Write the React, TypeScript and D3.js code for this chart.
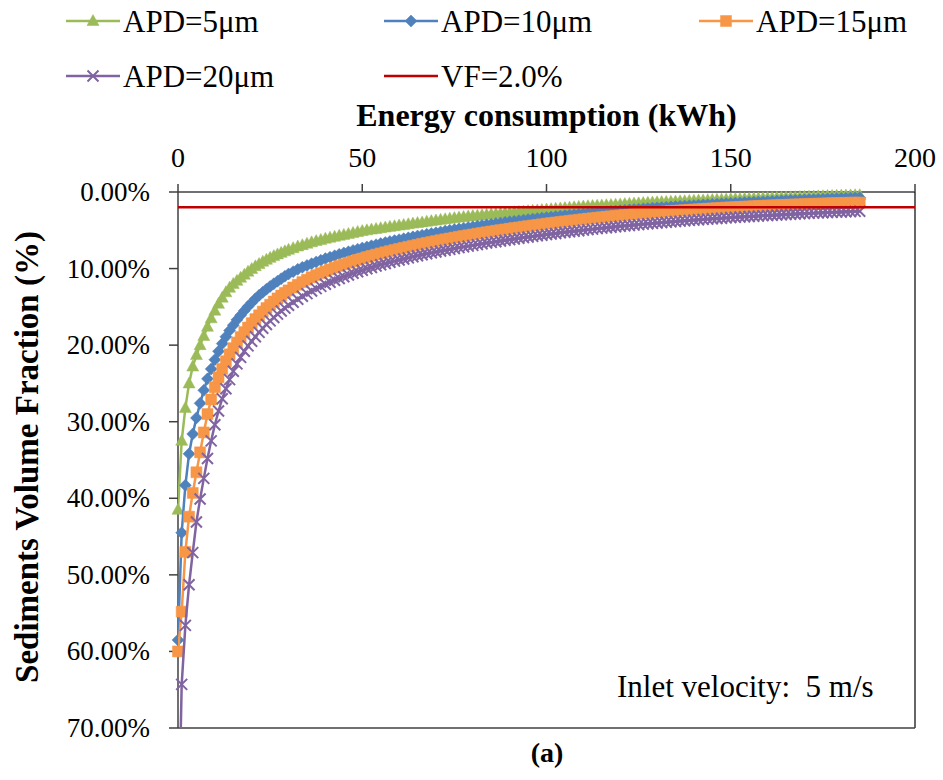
import React from 'react';
import * as d3 from 'd3';

// Energy consumption (kWh) at each sample
const ENERGY = [0,1,2,3,4,5,6,7,8,9,10,11,12,13,14,15,16,17,18,19,20,21,22,23,24,25,26,27,28,29,30,
  31.25,32.5,33.75,35,36.25,37.5,38.75,40,41.25,42.5,43.75,45,46.25,47.5,48.75,50,51.25,52.5,53.75,55,56.25,57.5,58.75,60,
  61.25,62.5,63.75,65,66.25,67.5,68.75,70,71.25,72.5,73.75,75,76.25,77.5,78.75,80,81.25,82.5,83.75,85,86.25,87.5,88.75,90,
  91.25,92.5,93.75,95,96.25,97.5,98.75,100,101.25,102.5,103.75,105,106.25,107.5,108.75,110,111.25,112.5,113.75,115,116.25,117.5,118.75,120,
  121.25,122.5,123.75,125,126.25,127.5,128.75,130,131.25,132.5,133.75,135,136.25,137.5,138.75,140,141.25,142.5,143.75,145,146.25,147.5,148.75,150,
  151.25,152.5,153.75,155,156.25,157.5,158.75,160,161.25,162.5,163.75,165,166.25,167.5,168.75,170,171.25,172.5,173.75,175,176.25,177.5,178.75,180,181.25,182.5,183.75,185];

// Sediments volume fraction (%) per series
const APD5 = [41.5,32.5,28.2,25.0,22.8,21.3,20.0,18.8,17.6,16.5,15.5,14.6,13.8,13.1,12.5,12.0,11.6,11.2,10.8,10.4,10.05,9.7,9.4,9.1,8.85,8.6,8.37,8.15,7.95,7.75,7.55,
  7.33,7.12,6.94,6.75,6.57,6.41,6.26,6.1,5.97,5.85,5.72,5.6,5.48,5.35,5.22,5.1,5.0,4.91,4.82,4.73,4.64,4.55,4.47,4.38,
  4.3,4.21,4.13,4.05,3.97,3.88,3.8,3.72,3.64,3.56,3.48,3.4,3.34,3.27,3.21,3.15,3.09,3.03,2.97,2.92,2.86,2.81,2.75,2.7,
  2.65,2.6,2.55,2.5,2.45,2.4,2.35,2.3,2.25,2.2,2.15,2.1,2.05,2.0,1.95,1.9,1.86,1.83,1.79,1.76,1.72,1.69,1.65,1.62,
  1.58,1.55,1.51,1.48,1.44,1.41,1.38,1.35,1.32,1.3,1.27,1.25,1.22,1.2,1.17,1.15,1.12,1.1,1.07,1.05,1.02,1.0,0.97,0.95,
  0.93,0.91,0.89,0.87,0.85,0.83,0.81,0.79,0.77,0.75,0.73,0.71,0.69,0.67,0.65,0.63,0.61,0.59,0.57,0.55,0.53,0.51,0.49,0.47,0.45,0.44,0.42,0.41];
const APD10 = [58.5,44.5,38.3,34.2,31.6,29.5,27.6,25.9,24.4,23.1,21.9,20.8,19.8,18.9,18.1,17.4,16.7,16.1,15.5,14.95,14.45,13.95,13.5,13.1,12.7,12.33,11.98,11.65,11.32,11.0,10.7,
  10.4,10.1,9.83,9.59,9.36,9.13,8.91,8.7,8.51,8.33,8.14,7.96,7.8,7.63,7.47,7.32,7.17,7.02,6.88,6.74,6.6,6.47,6.35,6.22,
  6.1,5.98,5.86,5.75,5.64,5.53,5.42,5.32,5.21,5.1,5.0,4.9,4.81,4.72,4.63,4.54,4.45,4.37,4.28,4.2,4.12,4.04,3.96,3.88,
  3.81,3.74,3.67,3.6,3.53,3.46,3.4,3.33,3.26,3.2,3.14,3.08,3.02,2.96,2.9,2.85,2.79,2.74,2.68,2.63,2.58,2.53,2.48,2.43,
  2.38,2.33,2.28,2.24,2.19,2.15,2.1,2.06,2.02,1.98,1.94,1.9,1.86,1.82,1.78,1.75,1.71,1.68,1.64,1.61,1.57,1.54,1.5,1.47,
  1.44,1.41,1.38,1.35,1.32,1.29,1.26,1.23,1.2,1.17,1.14,1.12,1.09,1.07,1.04,1.02,0.99,0.97,0.94,0.92,0.89,0.87,0.84,0.82,0.8,0.78,0.76,0.74];
const APD15 = [60,54.8,47.0,42.4,39.3,36.6,34.0,31.4,29.0,27.1,25.5,24.2,23.1,22.1,21.2,20.4,19.65,18.95,18.3,17.7,17.13,16.6,16.1,15.62,15.15,14.72,14.3,13.9,13.52,13.17,12.85,
  12.47,12.11,11.77,11.45,11.14,10.86,10.6,10.35,10.11,9.88,9.66,9.45,9.25,9.06,8.87,8.69,8.51,8.34,8.18,8.02,7.87,7.72,7.57,7.43,
  7.3,7.16,7.03,6.9,6.77,6.65,6.53,6.41,6.29,6.18,6.07,5.96,5.85,5.75,5.65,5.55,5.45,5.35,5.25,5.16,5.07,4.98,4.89,4.8,
  4.71,4.63,4.54,4.46,4.38,4.3,4.22,4.14,4.06,3.99,3.91,3.84,3.77,3.7,3.63,3.56,3.49,3.43,3.36,3.3,3.24,3.18,3.12,3.06,
  3.0,2.95,2.89,2.84,2.79,2.74,2.69,2.64,2.6,2.55,2.5,2.46,2.42,2.38,2.34,2.3,2.26,2.22,2.18,2.15,2.11,2.08,2.04,2.01,
  1.98,1.95,1.92,1.89,1.86,1.83,1.8,1.78,1.75,1.73,1.7,1.68,1.65,1.63,1.61,1.59,1.57,1.55,1.53,1.51,1.49,1.47,1.45,1.44,1.42,1.41,1.39,1.38];
const APD20 = [88,64.3,56.6,51.3,47.1,43.1,40.1,37.4,34.8,32.5,30.4,28.6,27.0,25.7,24.5,23.4,22.45,21.6,20.8,20.1,19.5,18.9,18.33,17.8,17.3,16.83,16.38,15.95,15.55,15.16,14.8,
  14.39,14.0,13.62,13.27,12.93,12.62,12.32,12.05,11.78,11.53,11.29,11.06,10.84,10.62,10.42,10.22,10.03,9.85,9.67,9.5,9.34,9.18,9.03,8.88,
  8.74,8.6,8.46,8.33,8.2,8.07,7.95,7.83,7.71,7.6,7.49,7.38,7.27,7.17,7.07,6.97,6.87,6.77,6.67,6.58,6.49,6.4,6.31,6.22,
  6.13,6.05,5.96,5.88,5.8,5.72,5.64,5.56,5.48,5.41,5.33,5.26,5.19,5.12,5.05,4.98,4.91,4.85,4.78,4.72,4.66,4.6,4.54,4.48,
  4.42,4.37,4.31,4.26,4.2,4.15,4.1,4.05,4.0,3.95,3.9,3.85,3.8,3.76,3.71,3.67,3.62,3.58,3.54,3.5,3.46,3.42,3.38,3.34,
  3.3,3.27,3.23,3.2,3.16,3.13,3.09,3.06,3.03,3.0,2.97,2.94,2.91,2.88,2.85,2.82,2.79,2.76,2.73,2.71,2.68,2.66,2.63,2.61,2.58,2.56,2.53,2.51];

const SERIES_NAMES = ['APD=5μm', 'APD=10μm', 'APD=15μm', 'APD=20μm'];
const SERIES_VALUES = [APD5, APD10, APD15, APD20];
const SERIES_COLORS = ['#9BBB59', '#4F81BD', '#F79646', '#8064A2'];
const SERIES_MARKERS = ['triangle', 'diamond', 'square', 'x'];
const VF_NAME = 'VF=2.0%';
const VF_LIMIT = 2.0;
const VF_COLOR = '#C00000';

const X_TICKS = [0, 50, 100, 150, 200];
const Y_TICKS = [0, 10, 20, 30, 40, 50, 60, 70];

const FONT = '"Liberation Serif", "Times New Roman", serif';

function markerPath(kind: string): string {
  if (kind === 'triangle') return 'M0,-6.5L6,4.5L-6,4.5Z';
  if (kind === 'diamond') return 'M0,-6L6,0L0,6L-6,0Z';
  if (kind === 'square') return 'M-5.5,-5.5H5.5V5.5H-5.5Z';
  return 'M-5.5,-5.5L5.5,5.5M5.5,-5.5L-5.5,5.5';
}

function Marker({ kind, color, cx, cy }: { kind: string; color: string; cx: number; cy: number }) {
  const isX = kind === 'x';
  return (
    <path
      d={markerPath(kind)}
      transform={`translate(${cx},${cy})`}
      fill={isX ? 'none' : color}
      stroke={color}
      strokeWidth={isX ? 2 : 0.5}
    />
  );
}

export default function App() {
  const W = 943, H = 780;
  const L = 178, R = 915, T = 192, B = 728;
  const x = d3.scaleLinear().domain([0, 200]).range([L, R]);
  const y = d3.scaleLinear().domain([0, 70]).range([T, B]);

  const line = d3.line<[number, number]>().x(d => x(d[0])).y(d => y(d[1]));

  const legendRows = [
    { name: SERIES_NAMES[0], color: SERIES_COLORS[0], marker: SERIES_MARKERS[0], lx: 66, cy: 21 },
    { name: SERIES_NAMES[1], color: SERIES_COLORS[1], marker: SERIES_MARKERS[1], lx: 384, cy: 21 },
    { name: SERIES_NAMES[2], color: SERIES_COLORS[2], marker: SERIES_MARKERS[2], lx: 699, cy: 21 },
    { name: SERIES_NAMES[3], color: SERIES_COLORS[3], marker: SERIES_MARKERS[3], lx: 66, cy: 76 },
    { name: VF_NAME, color: VF_COLOR, marker: '', lx: 384, cy: 76 },
  ];

  return (
    <svg width={W} height={H} style={{ position: 'absolute', left: 0, top: 0, background: '#fff' }} fontFamily={FONT}>
      <defs>
        <clipPath id="plotClip">
          <rect x={L} y={T} width={R - L} height={B - T} />
        </clipPath>
      </defs>

      {/* legend */}
      {legendRows.map((r, i) => (
        <g key={i}>
          <line x1={r.lx} x2={r.lx + 54} y1={r.cy} y2={r.cy} stroke={r.color} strokeWidth={2.5} />
          {r.marker && <Marker kind={r.marker} color={r.color} cx={r.lx + 27} cy={r.cy} />}
          <text x={r.lx + 57} y={r.cy} dominantBaseline="central" fontSize={31} fill="#000">{r.name}</text>
        </g>
      ))}

      {/* axis titles */}
      <text x={(L + R) / 2} y={115} textAnchor="middle" dominantBaseline="central" fontSize={32} fontWeight="bold">Energy consumption (kWh)</text>
      <text transform={`translate(27,${(T + B) / 2 - 3}) rotate(-90)`} textAnchor="middle" dominantBaseline="central" fontSize={33} fontWeight="bold">Sediments Volume Fraction (%)</text>

      {/* x ticks (top) */}
      {X_TICKS.map(t => (
        <g key={t}>
          <line x1={x(t)} x2={x(t)} y1={T - 8} y2={T} stroke="#404040" strokeWidth={1.5} />
          <text x={x(t)} y={157} textAnchor="middle" dominantBaseline="central" fontSize={28}>{t}</text>
        </g>
      ))}
      {/* y ticks (left) */}
      {Y_TICKS.map(t => (
        <g key={t}>
          <line x1={L - 9} x2={L} y1={y(t)} y2={y(t)} stroke="#404040" strokeWidth={1.5} />
          <text x={150} y={y(t)} textAnchor="end" dominantBaseline="central" fontSize={27}>{t.toFixed(2)}%</text>
        </g>
      ))}

      {/* frame */}
      <line x1={L} x2={R} y1={T} y2={T} stroke="#404040" strokeWidth={1.5} />
      <line x1={L} x2={L} y1={T} y2={B} stroke="#404040" strokeWidth={1.5} />
      <line x1={R} x2={R} y1={T} y2={B} stroke="#000" strokeWidth={1.2} />
      <line x1={L} x2={R} y1={B} y2={B} stroke="#404040" strokeWidth={1.5} />

      {/* series */}
      {SERIES_VALUES.map((vals, si) => {
        const n = Math.min(vals.length, ENERGY.length);
        const pts: [number, number][] = [];
        for (let i = 0; i < n; i++) pts.push([ENERGY[i], vals[i]]);
        return (
          <g key={si}>
            <path d={line(pts) || ''} fill="none" stroke={SERIES_COLORS[si]} strokeWidth={2.5} clipPath="url(#plotClip)" />
            {pts.filter(p => p[1] <= 70).map((p, i) => (
              <Marker key={i} kind={SERIES_MARKERS[si]} color={SERIES_COLORS[si]} cx={x(p[0])} cy={y(p[1])} />
            ))}
          </g>
        );
      })}

      {/* VF limit line */}
      <line x1={L} x2={R} y1={y(VF_LIMIT)} y2={y(VF_LIMIT)} stroke={VF_COLOR} strokeWidth={2.5} />

      {/* annotation */}
      <text x={617} y={697} fontSize={31} style={{ whiteSpace: 'pre' }}>{'Inlet velocity:  5 m/s'}</text>
      <text x={547} y={752} textAnchor="middle" dominantBaseline="central" fontSize={28} fontWeight="bold">(a)</text>
    </svg>
  );
}
